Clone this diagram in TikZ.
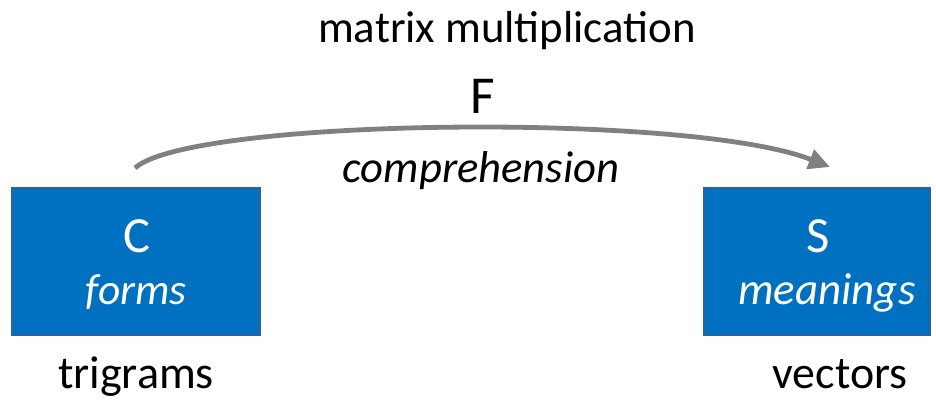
\documentclass[tikz,border=0pt]{standalone}
\usepackage{fontspec}
\setmainfont{Carlito}
\usetikzlibrary{arrows.meta}
\definecolor{boxblue}{HTML}{0070C0}
\definecolor{boxedge}{HTML}{2A64A0}
\definecolor{arrowgray}{HTML}{808080}
\tikzset{
  bluebox/.style={fill=boxblue,draw=boxedge,line width=0.8pt,inner sep=0},
  lbl/.style={anchor=base,inner sep=0,font=\fontsize{34}{40}\selectfont},
  inlbl/.style={lbl,text=white},
  curvearrow/.style={draw=arrowgray,line width=3.6pt,-{Triangle[length=16pt,width=15pt]}}
}
\begin{document}
\begin{tikzpicture}[x=0.75pt,y=-0.75pt]
\useasboundingbox (0,0) rectangle (936,401);
% boxes
\path[bluebox] (12,188) rectangle (260,335);
\path[bluebox] (704,188) rectangle (930,335);
% box texts
\node[inlbl,font=\fontsize{38}{44}\selectfont] (C) at (137,252) {C};
\node[inlbl,font=\fontsize{32.6}{38}\selectfont\itshape] (forms) at (136,304) {forms};
\node[inlbl,font=\fontsize{38}{44}\selectfont] (S) at (818,252) {S};
\node[inlbl,font=\fontsize{33.7}{38}\selectfont\itshape] (meanings) at (827,304) {meanings};
% labels below
\node[lbl,font=\fontsize{34.6}{40}\selectfont] (trigrams) at (136,388) {trigrams};
\node[lbl,font=\fontsize{34.4}{40}\selectfont] (vectors) at (840,388) {vectors};
% top labels
\node[lbl,font=\fontsize{33.6}{40}\selectfont] (mm) at (507,42) {matrix multiplication};
\node[lbl,font=\fontsize{40}{46}\selectfont] (F) at (483,113) {F};
\node[lbl,font=\fontsize{33.5}{40}\selectfont\itshape] (comp) at (481,182) {comprehension};
% arrow
\coordinate (from) at (135,168);
\coordinate (to) at (830,167);
\draw[curvearrow] (from) .. controls (190,118) and (690,112) .. (to);
\end{tikzpicture}
\end{document}
